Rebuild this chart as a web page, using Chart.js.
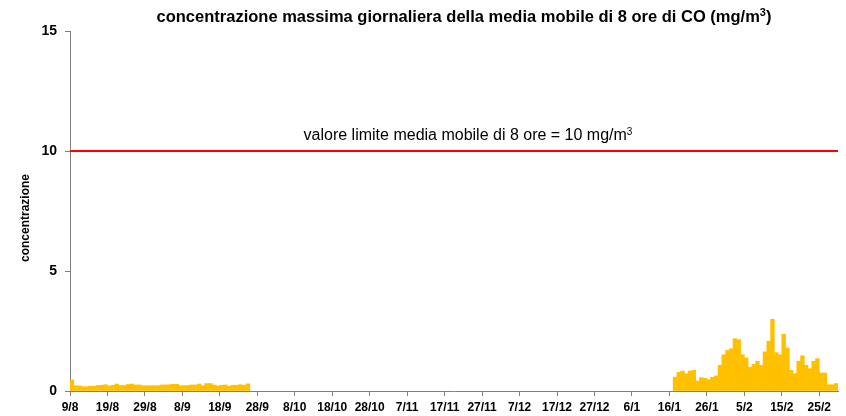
<!DOCTYPE html>
<html>
<head>
<meta charset="utf-8">
<script src="https://cdn.jsdelivr.net/npm/chart.js@4.4.0/dist/chart.umd.min.js"></script>
<style>
  html, body { margin: 0; padding: 0; background: #fff; }
  #box { width: 846px; height: 416px; }
</style>
</head>
<body>
<div id="box"><canvas id="myChart1" width="846" height="416"></canvas></div>
<script>
// etichette ogni 10 giorni, a partire dal 9/8
const etichette = ['9/8', '19/8', '29/8', '8/9', '18/9', '28/9', '8/10', '18/10', '28/10', '7/11',
  '17/11', '27/11', '7/12', '17/12', '27/12', '6/1', '16/1', '26/1', '5/2', '15/2', '25/2'];
const nGiorni = 205;

// primo periodo: dal 9/8 (giorno 0) al 25/9
const inizioEstate = 0;
const valoriEstate = [0.46, 0.22, 0.21, 0.18, 0.18, 0.2, 0.2, 0.23, 0.24, 0.26,
  0.21, 0.24, 0.29, 0.23, 0.23, 0.27, 0.29, 0.25, 0.25, 0.22,
  0.22, 0.22, 0.22, 0.22, 0.25, 0.25, 0.26, 0.28, 0.28, 0.22,
  0.22, 0.23, 0.25, 0.25, 0.29, 0.22, 0.31, 0.31, 0.25, 0.21,
  0.24, 0.25, 0.2, 0.24, 0.24, 0.26, 0.24, 0.3];

// secondo periodo: dal 17/1 (giorno 161) in poi
const inizioInverno = 161;
const valoriInverno = [0.58, 0.78, 0.83, 0.72, 0.83, 0.86, 0.42, 0.56, 0.53, 0.47,
  0.57, 0.63, 1.07, 1.51, 1.69, 1.76, 2.18, 2.14, 1.51, 1.38,
  0.99, 1.11, 1.24, 1.07, 1.63, 2.07, 2.99, 1.6, 1.51, 2.36,
  1.79, 0.86, 0.72, 1.24, 1.47, 1.07, 0.93, 1.24, 1.35, 0.75,
  0.75, 0.26, 0.26, 0.31];

const valoreLimite = 10;
const yTicks = [0, 5, 10, 15];

const barre = [];
valoriEstate.forEach((v, i) => barre.push({ x: inizioEstate + i + 0.5, y: v }));
valoriInverno.forEach((v, i) => barre.push({ x: inizioInverno + i + 0.5, y: v }));

const grigio = '#808080';
const font = '"Liberation Sans", Arial, sans-serif';

// scrive un testo con l'apice "3" finale, centrato in cx
const testoConApice = (ctx, testo, dopo, cx, y, size, peso) => {
  ctx.font = `${peso} ${size}px ${font}`;
  const w1 = ctx.measureText(testo).width;
  const wDopo = ctx.measureText(dopo).width;
  const sizeSup = Math.round(size * 0.65);
  ctx.font = `${peso} ${sizeSup}px ${font}`;
  const wSup = ctx.measureText('3').width;
  let x = cx - (w1 + wSup + wDopo) / 2;
  ctx.font = `${peso} ${size}px ${font}`;
  ctx.fillText(testo, x, y);
  x += w1;
  ctx.font = `${peso} ${sizeSup}px ${font}`;
  ctx.fillText('3', x, y - size * 0.22);
  x += wSup;
  ctx.font = `${peso} ${size}px ${font}`;
  if (dopo) ctx.fillText(dopo, x, y);
};

/* testi: titolo, titolo asse y e scritta del valore limite */
const testi = {
  id: 'testi',
  afterDraw(chart) {
    const ctx = chart.ctx;
    ctx.save();
    ctx.fillStyle = '#000';
    ctx.textBaseline = 'middle';
    ctx.textAlign = 'left';

    testoConApice(ctx, 'concentrazione massima giornaliera della media mobile di 8 ore di CO (mg/m', ')',
      464, 17, 16.5, 'bold');

    const yLim = chart.scales.y.getPixelForValue(valoreLimite) - 15;
    testoConApice(ctx, 'valore limite media mobile di 8 ore = 10 mg/m', '', 468, yLim, 16, 'normal');

    // titolo asse y
    ctx.translate(26, 218);
    ctx.rotate(-Math.PI / 2);
    ctx.textAlign = 'center';
    ctx.font = `bold 12px ${font}`;
    ctx.fillText('concentrazione', 0, 0);
    ctx.restore();
  }
};

const sfondo = {
  id: 'sfondo',
  beforeDraw(chart) {
    const ctx = chart.ctx;
    ctx.save();
    ctx.fillStyle = '#fff';
    ctx.fillRect(0, 0, chart.width, chart.height);
    ctx.restore();
  }
};

const ctx = document.getElementById('myChart1').getContext('2d');
const myChart = new Chart(ctx, {
  type: 'bar',
  data: {
    datasets: [
      {
        type: 'line',
        data: [{ x: 0, y: valoreLimite }, { x: nGiorni, y: valoreLimite }],
        borderColor: '#FF0000',
        borderWidth: 2,
        pointRadius: 0,
        order: 0
      },
      {
        data: barre,
        backgroundColor: '#FFC000',
        borderWidth: 0,
        barPercentage: 1,
        categoryPercentage: 1,
        order: 1
      }
    ]
  },
  options: {
    responsive: false,
    animation: false,
    events: [],
    layout: { padding: { top: 31, right: 8, left: 0, bottom: 0 } },
    plugins: {
      legend: { display: false },
      title: { display: false },
      tooltip: { enabled: false }
    },
    scales: {
      x: {
        type: 'linear',
        min: 0,
        max: nGiorni,
        offset: false,
        afterBuildTicks: (scale) => {
          scale.ticks = etichette.map((e, i) => ({ value: i * 10 }));
        },
        afterFit: (scale) => { scale.height = 25; },
        ticks: {
          autoSkip: false,
          maxRotation: 0,
          padding: 4,
          color: '#000',
          font: { family: font, size: 12, weight: 'bold' },
          callback: (v) => etichette[Math.round(v / 10)]
        },
        grid: { offset: false, drawOnChartArea: false, drawTicks: true, tickLength: 5, color: grigio },
        border: { display: true, color: grigio, width: 1 }
      },
      y: {
        min: 0,
        max: 15,
        afterBuildTicks: (scale) => {
          scale.ticks = yTicks.map((v) => ({ value: v }));
        },
        afterFit: (scale) => { scale.width = 70; },
        ticks: {
          padding: 8,
          color: '#000',
          font: { family: font, size: 14, weight: 'bold' }
        },
        grid: { drawOnChartArea: false, drawTicks: true, tickLength: 5, color: grigio },
        border: { display: true, color: grigio, width: 1 }
      }
    }
  },
  plugins: [sfondo, testi]
});
</script>
</body>
</html>
